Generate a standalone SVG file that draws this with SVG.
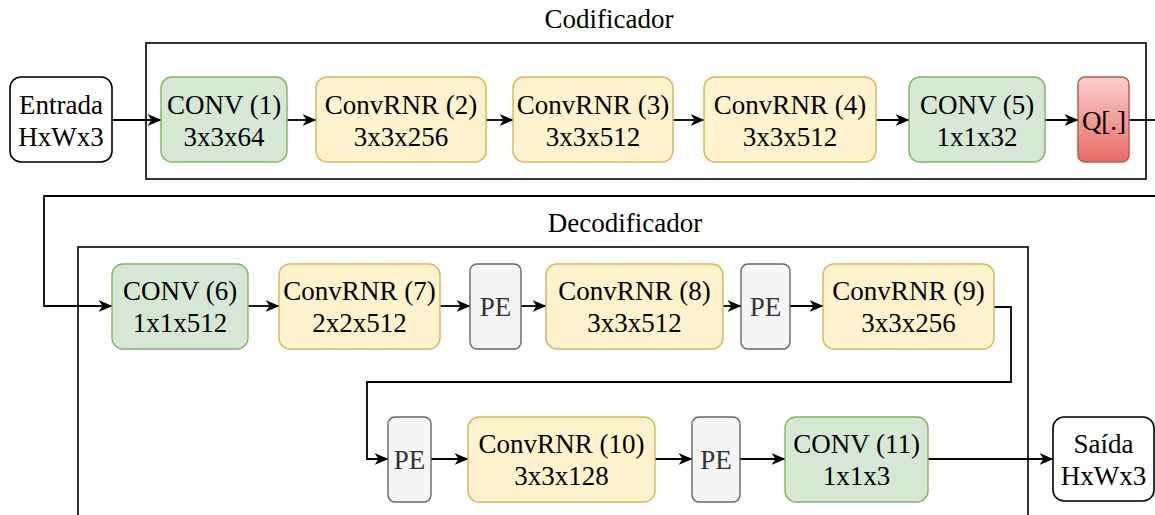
<svg xmlns="http://www.w3.org/2000/svg" width="1155" height="515" viewBox="0 0 1155 515">
  <defs>
    <linearGradient id="qFill" x1="0" y1="0" x2="0" y2="1">
      <stop offset="0" stop-color="#f8cecc"/>
      <stop offset="1" stop-color="#ea6b66"/>
    </linearGradient>
    <marker id="arrow" viewBox="0 0 14 12" refX="13.5" refY="6" markerWidth="14" markerHeight="12" markerUnits="userSpaceOnUse" orient="auto">
      <path d="M0,0 L14,6 L0,12 L4,6 Z" fill="#000"/>
    </marker>
  </defs>
  <style>
    text { font-family: "Liberation Serif", "Times New Roman", serif; font-size: 27px; fill: #000; text-anchor: middle; }
    .container { fill: none; stroke: #000; stroke-width: 1.6; }
    .io { fill: #fff; stroke: #000; stroke-width: 1.6; }
    .conv { fill: #d5e8d4; stroke: #82b366; stroke-width: 1.4; }
    .rnr { fill: #fff2cc; stroke: #d6b656; stroke-width: 1.4; }
    .pe { fill: #f5f5f5; stroke: #666666; stroke-width: 1.4; }
    .pe-text { fill: #333333; }
    .quant { fill: url(#qFill); stroke: #b85450; stroke-width: 1.4; }
    .edge { fill: none; stroke: #000; stroke-width: 1.8; marker-end: url(#arrow); }
    .edge-plain { fill: none; stroke: #000; stroke-width: 1.8; }
  </style>

  <rect width="1155" height="515" fill="#fff"/>

  <!-- Containers -->
  <g id="encoder">
    <rect class="container" x="146" y="43" width="1000" height="136"/>
    <text x="609" y="28">Codificador</text>
  </g>
  <g id="decoder">
    <rect class="container" x="78" y="247" width="950" height="290"/>
    <text x="625" y="232">Decodificador</text>
  </g>

  <!-- Connectors -->
  <g id="connectors">
    <path class="edge" d="M112,120 L161,120"/>
    <path class="edge" d="M287,120 L316,120"/>
    <path class="edge" d="M486,120 L513,120"/>
    <path class="edge" d="M673,120 L704,120"/>
    <path class="edge" d="M876,120 L909,120"/>
    <path class="edge" d="M1045,120 L1078,120"/>
    <path class="edge-plain" d="M1129,120 L1160,120"/>
    <path class="edge" d="M1160,196 L44,196 L44,306 L112,306"/>

    <path class="edge" d="M248,306 L279,306"/>
    <path class="edge" d="M440,306 L470,306"/>
    <path class="edge" d="M521,306 L546,306"/>
    <path class="edge" d="M723,306 L741,306"/>
    <path class="edge" d="M790,306 L823,306"/>
    <path class="edge" d="M994,307 L1011,307 L1011,382 L367,382 L367,459 L388,459"/>

    <path class="edge" d="M431,459 L468,459"/>
    <path class="edge" d="M655,459 L692,459"/>
    <path class="edge" d="M740,459 L785,459"/>
    <path class="edge" d="M928,459 L1053,459"/>
  </g>

  <!-- Encoder row -->
  <g id="input">
    <rect class="io" x="10" y="77" width="102" height="85" rx="11"/>
    <text x="61" y="114">Entrada</text>
    <text x="61" y="146">HxWx3</text>
  </g>
  <g id="conv1">
    <rect class="conv" x="161" y="77" width="126" height="85" rx="11"/>
    <text x="224" y="114">CONV (1)</text>
    <text x="224" y="146">3x3x64</text>
  </g>
  <g id="convrnr2">
    <rect class="rnr" x="316" y="77" width="170" height="85" rx="11"/>
    <text x="401" y="114">ConvRNR (2)</text>
    <text x="401" y="146">3x3x256</text>
  </g>
  <g id="convrnr3">
    <rect class="rnr" x="513" y="77" width="160" height="85" rx="11"/>
    <text x="593" y="114">ConvRNR (3)</text>
    <text x="593" y="146">3x3x512</text>
  </g>
  <g id="convrnr4">
    <rect class="rnr" x="704" y="77" width="172" height="85" rx="11"/>
    <text x="790" y="114">ConvRNR (4)</text>
    <text x="790" y="146">3x3x512</text>
  </g>
  <g id="conv5">
    <rect class="conv" x="909" y="77" width="136" height="85" rx="11"/>
    <text x="977" y="114">CONV (5)</text>
    <text x="977" y="146">1x1x32</text>
  </g>
  <g id="quantizer">
    <rect class="quant" x="1078" y="77" width="51" height="85" rx="7"/>
    <text x="1104" y="130">Q[.]</text>
  </g>

  <!-- Decoder row 1 -->
  <g id="conv6">
    <rect class="conv" x="112" y="264" width="136" height="85" rx="11"/>
    <text x="180" y="300">CONV (6)</text>
    <text x="180" y="332">1x1x512</text>
  </g>
  <g id="convrnr7">
    <rect class="rnr" x="279" y="264" width="161" height="85" rx="11"/>
    <text x="359.5" y="300">ConvRNR (7)</text>
    <text x="359.5" y="332">2x2x512</text>
  </g>
  <g id="pe1">
    <rect class="pe" x="470" y="264" width="51" height="85" rx="7"/>
    <text class="pe-text" x="495.5" y="316">PE</text>
  </g>
  <g id="convrnr8">
    <rect class="rnr" x="546" y="264" width="177" height="85" rx="11"/>
    <text x="634.5" y="300">ConvRNR (8)</text>
    <text x="634.5" y="332">3x3x512</text>
  </g>
  <g id="pe2">
    <rect class="pe" x="741" y="264" width="49" height="85" rx="7"/>
    <text class="pe-text" x="765.5" y="316">PE</text>
  </g>
  <g id="convrnr9">
    <rect class="rnr" x="823" y="264" width="171" height="85" rx="11"/>
    <text x="908.5" y="300">ConvRNR (9)</text>
    <text x="908.5" y="332">3x3x256</text>
  </g>

  <!-- Decoder row 2 -->
  <g id="pe3">
    <rect class="pe" x="388" y="417" width="43" height="85" rx="7"/>
    <text class="pe-text" x="409.5" y="469">PE</text>
  </g>
  <g id="convrnr10">
    <rect class="rnr" x="468" y="417" width="187" height="85" rx="11"/>
    <text x="561.5" y="453">ConvRNR (10)</text>
    <text x="561.5" y="485">3x3x128</text>
  </g>
  <g id="pe4">
    <rect class="pe" x="692" y="417" width="48" height="85" rx="7"/>
    <text class="pe-text" x="716" y="469">PE</text>
  </g>
  <g id="conv11">
    <rect class="conv" x="785" y="417" width="143" height="85" rx="11"/>
    <text x="856.5" y="453">CONV (11)</text>
    <text x="856.5" y="485">1x1x3</text>
  </g>
  <g id="output">
    <rect class="io" x="1053" y="417" width="101" height="84" rx="11"/>
    <text x="1103.5" y="453">Saída</text>
    <text x="1103.5" y="485">HxWx3</text>
  </g>
</svg>
